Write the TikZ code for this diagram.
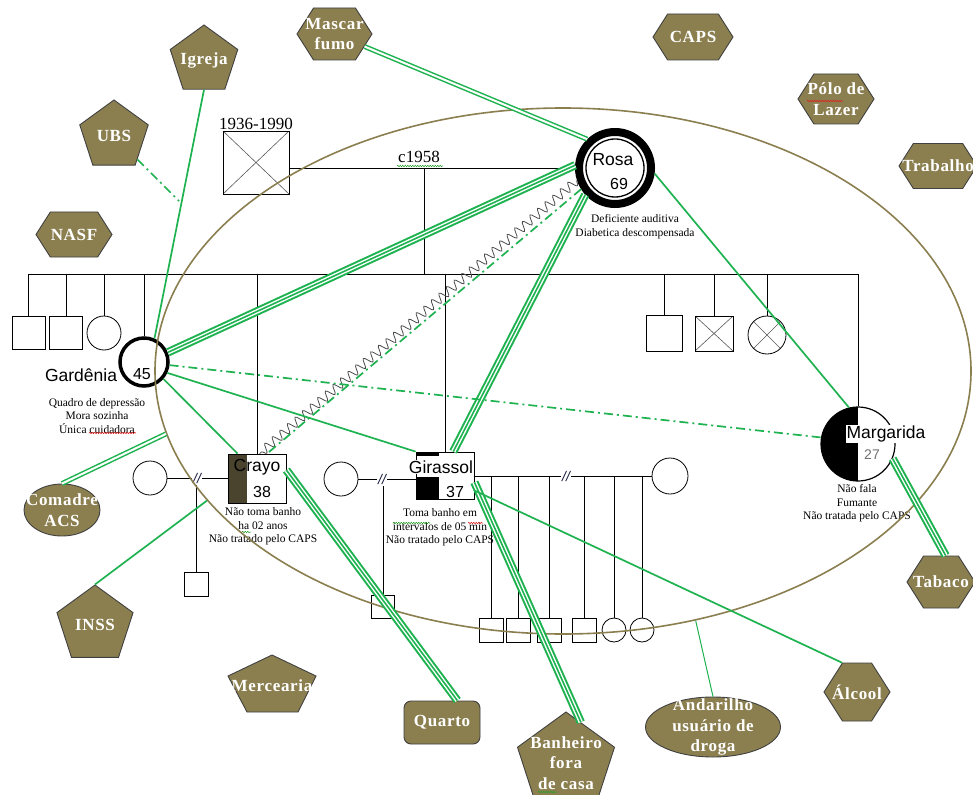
\documentclass[tikz,border=0pt]{standalone}
\usepackage{fontspec}
\setmainfont{Liberation Serif}
\setsansfont{Liberation Sans}
\newfontfamily\ecofont[LetterSpace=4.0]{Liberation Serif}
\usepackage{tikz}
\usetikzlibrary{shapes.geometric,shapes.symbols,decorations.pathmorphing}
\definecolor{oliva}{RGB}{139,127,80}
\definecolor{olivaesc}{RGB}{74,68,46}
\definecolor{verde}{RGB}{30,178,80}
\definecolor{tinta}{RGB}{25,30,60}
\definecolor{sublverde}{RGB}{40,160,40}
\definecolor{sublverm}{RGB}{225,30,30}

\begin{document}
\begin{tikzpicture}[x=1pt,y=-1pt,
  rotulo/.style={text=white, font=\ecofont\bfseries\fontsize{17}{20.5}\selectfont, align=center, inner sep=0pt},
  eco/.style={draw=black!75, fill=oliva, line width=0.9pt, inner sep=0pt, label={[rotulo]center:#1}},
  hexa/.style={eco={#1}, signal, signal to=west and east, signal pointer angle=115},
  penta/.style={eco={#1}, regular polygon, regular polygon sides=5},
  pessoa/.style={draw, line width=0.8pt, inner sep=0pt},
  homem/.style={pessoa, rectangle, minimum width=#1, minimum height=#1},
  mulher/.style={pessoa, circle, minimum size=#1},
  cruz/.style={path picture={\draw[black!65, line width=0.6pt] (path picture bounding box.south west) -- (path picture bounding box.north east) (path picture bounding box.north west) -- (path picture bounding box.south east);}},
  nome/.style={font=\sffamily\fontsize{17.5}{20}\selectfont, inner sep=1pt},
  idade/.style={font=\sffamily\fontsize{16}{18}\selectfont, inner sep=0pt},
  nota/.style={font=\fontsize{11.5}{13.5}\selectfont, align=center, inner sep=0pt},
  data/.style={font=\fontsize{17}{20}\selectfont, inner sep=1pt},
  corte/.style={fill=white, text=tinta, font=\sffamily\itshape\fontsize{14}{14}\selectfont, inner sep=1.5pt},
  lig/.style={verde, line width=1.7pt},
  dupla/.style={verde, line width=1.5pt, double=white, double distance=2pt},
  forte/.style={verde, line width=1.6pt, preaction={draw=verde, line width=8.4pt}, preaction={draw=white, line width=4.4pt}},
  fraca/.style={verde, line width=1.7pt, dash pattern=on 9pt off 4pt on 2pt off 4pt},
  conflito/.style={black!70, line width=0.8pt, decorate, decoration={snake, segment length=10pt, amplitude=4.5pt}},
  sublinha/.style={draw=#1, line width=0.5pt, decorate, decoration={snake, segment length=2.5pt, amplitude=0.8pt}}
]
\path[use as bounding box, fill=white] (0,0) rectangle (973,794);

\node[homem=66pt, minimum height=63pt, cruz] (avo) at (256,162.5) {};
\node[data, anchor=south] (anos) at (avo.north) {1936-1990};
\node[mulher=72pt, line width=8pt] (rosa) at (615,168) {};
\draw[line width=1.3pt] (rosa.center) circle[radius=29pt];
\draw[line width=0.8pt] (avo.east |- rosa) -- (rosa);
\node[data] (casamento) at (419,157) {c1958};
\coordinate (uniao) at (424,168);
\coordinate (sibesq) at (29,274);
\coordinate (sibdir) at (858,274);
\draw[line width=0.8pt] (uniao) -- (uniao |- sibesq);
\draw[line width=0.8pt] (sibesq) -- (sibdir);

\node[homem=33pt] (f1) at (28.5,333) {};
\node[homem=33pt] (f2) at (66,333) {};
\node[mulher=34pt] (f3) at (104,333) {};
\node[mulher=48pt, line width=3.5pt] (gard) at (144,362) {};
\node[homem=49pt, minimum width=58pt, path picture={\fill[olivaesc] (path picture bounding box.south west) rectangle ([xshift=19pt]path picture bounding box.north west);}] (crayo) at (257,478.5) {};
\node[homem=47pt, minimum width=58pt, path picture={\fill (path picture bounding box.south west) rectangle ([xshift=23pt,yshift=22pt]path picture bounding box.south west); \fill (path picture bounding box.north west) rectangle ([xshift=23pt,yshift=-3.5pt]path picture bounding box.north west);}] (gira) at (445,475.5) {};
\node[homem=36pt] (f5) at (664,333) {};
\node[homem=35pt, minimum width=38pt, cruz] (f6) at (714,333.5) {};
\node[mulher=38pt, cruz] (f7) at (767,335) {};
\node[mulher=74pt, line width=1.2pt, path picture={\fill (path picture bounding box.south west) rectangle (path picture bounding box.north);}] (marg) at (858,444) {};
\foreach \f in {f1,f2,f3,gard,crayo,gira,f5,f6,f7,marg}
  \draw[line width=0.8pt] (\f.north) -- (\f.north |- sibesq);

\node[mulher=34pt] (esp1) at (150,478) {};
\draw[line width=0.8pt] (esp1) -- (esp1 -| crayo.west);
\node[corte] (sep1) at (197,478) {//};
\node[homem=24pt] (neto1) at (196,584) {};
\draw[line width=0.8pt] (neto1.north) -- (neto1.north |- sep1.south);

\node[mulher=34pt] (esp2) at (341,479) {};
\draw[line width=0.8pt] (esp2) -- (esp2 -| gira.west);
\node[corte] (sep2) at (382,479) {//};
\node[homem=23pt] (neto2) at (383,607) {};
\draw[line width=0.8pt] (neto2.north) -- (neto2.north |- sep2.south);

\node[mulher=36pt] (esp3) at (670,476) {};
\draw[line width=0.8pt] (gira.east |- esp3) -- (esp3);
\foreach \n/\x in {b1/491,b2/518,b3/549,b4/584}
  \node[homem=24pt] (\n) at (\x,630) {};
\foreach \n/\x in {b5/614,b6/642}
  \node[mulher=24pt] (\n) at (\x,630) {};
\foreach \n in {b1,b2,b3,b4,b5,b6}
  \draw[line width=0.8pt] (\n.north) -- (\n.north |- esp3);
\node[corte] (sep3) at (566,476) {//};

\node[nome] (nrosa) at (613,160) {Rosa};
\node[idade] (irosa) at (619,184) {69};
\node[nota] (drosa) at (635,226.5) {Deficiente auditiva\\Diabetica descompensada};
\node[nome] (ngard) at (81,375) {Gardênia};
\node[idade] (igard) at (142,374) {45};
\node[nota] (dgard) at (97,416) {Quadro de depressão\\Mora sozinha\\Única cuidadora};
\node[nome] (ncrayo) at (257,467) {Crayo};
\node[idade] (icrayo) at (262,492) {38};
\node[nota] (dcrayo) at (263,526.5) {Não toma banho\\ha 02 anos\\Não tratado pelo CAPS};
\node[nome, fill=white] (ngira) at (441,467) {Girassol};
\node[idade] (igira) at (455,492) {37};
\node[nota] (dgira) at (440,527.5) {Toma banho em\\intervalos de 05 min\\Não tratado pelo CAPS};
\node[nome, fill=white] (nmarg) at (886,434) {Margarida};
\node[idade, text=black!55, font=\sffamily\fontsize{14}{16}\selectfont] (imarg) at (872,455) {27};
\node[nota] (dmarg) at (857,503.5) {Não fala\\Fumante\\Não tratada pelo CAPS};

\node[draw=oliva, line width=1.6pt, ellipse, minimum width=816pt, minimum height=526pt, inner sep=0pt] (familia) at (563,371) {};

\node[hexa={Mascar\\fumo}, minimum width=75pt, minimum height=52pt] (mascar) at (334.5,34) {};
\node[hexa=CAPS, minimum width=80pt, minimum height=46pt] (caps) at (693,37) {};
\node[hexa=NASF, minimum width=76pt, minimum height=45pt] (nasf) at (74,234.5) {};
\node[hexa={Pólo de\\Lazer}, minimum width=76pt, minimum height=50pt] (polo) at (836,99) {};
\node[hexa=Trabalho, minimum width=78pt, minimum height=45pt] (trab) at (938,166) {};
\node[hexa=Álcool, minimum width=66pt, minimum height=58pt] (alcool) at (857,692) {};
\node[hexa=Tabaco, minimum width=68pt, minimum height=52pt] (tabaco) at (941,582) {};
\node[penta=Igreja, minimum size=71pt] (igreja) at (204,60.5) {};
\node[penta=UBS, minimum size=72pt] (ubs) at (114,136) {};
\node[penta=INSS, minimum size=80pt] (inss) at (95,625) {};
\node[penta={Banheiro\\fora\\de casa}, minimum size=102pt] (banheiro) at (566,763) {};
\node[eco={Comadre\\ACS}, ellipse, minimum width=76pt, minimum height=52pt] (comadre) at (62,510) {};
\node[eco={Andarilho\\usuário de\\droga}, ellipse, minimum width=135pt, minimum height=60pt] (andarilho) at (713,727) {};
\node[eco=Quarto, rounded corners=7pt, minimum width=76pt, minimum height=43pt] (quarto) at (442,722.5) {};
\filldraw[draw=black!75, fill=oliva, line width=0.9pt] (272,655) -- (316,676) -- (298,712) -- (247,712) -- (228,676) -- cycle;
\node[rotulo] (merc) at (272,686) {Mercearia};

\coordinate (ubsfim) at (179,201);
\draw[lig] (igreja.south) -- (gard.66);
\draw[fraca] (ubs) -- (ubsfim);
\draw[dupla] (mascar) -- (rosa.134);
\draw[forte] (rosa.176) -- (gard.22);
\draw[forte] (rosa.222) -- (gira.71);
\draw[lig] (rosa.-8) -- (marg.104);
\draw[conflito] (rosa.198) -- (crayo.84);
\draw[fraca] (rosa.212) -- (crayo.68);
\draw[fraca] (gard.-7) -- (marg.170);
\draw[lig] (gard.-25) -- (gira.north west);
\draw[lig] (gard.-41) -- (crayo.128);
\draw[dupla] (comadre.north) -- (familia.189);
\draw[lig] (inss.north) -- (familia.200);
\draw[forte] (crayo.16) -- (quarto.55);
\draw[forte] (gira.-13) -- (banheiro.70);
\draw[lig] (gira.-27) -- (alcool.117);
\draw[forte] (marg.-23) -- (tabaco.80);
\draw[lig, line width=1pt] (andarilho.north) -- (familia.298);

\draw[sublinha=sublverde] (397,166) -- (443,166);
\draw[sublinha=sublverm] (807,101) -- (843,101);
\draw[sublinha=sublverm] (89,433) -- (136,433);
\draw[sublinha=sublverde] (242,532) -- (251,532);
\draw[sublinha=sublverde] (393,523) -- (430,523);
\draw[sublinha=sublverm] (468,523) -- (483,523);
\draw[sublinha=sublverde] (538,792) -- (557,792);
\end{tikzpicture}
\end{document}
